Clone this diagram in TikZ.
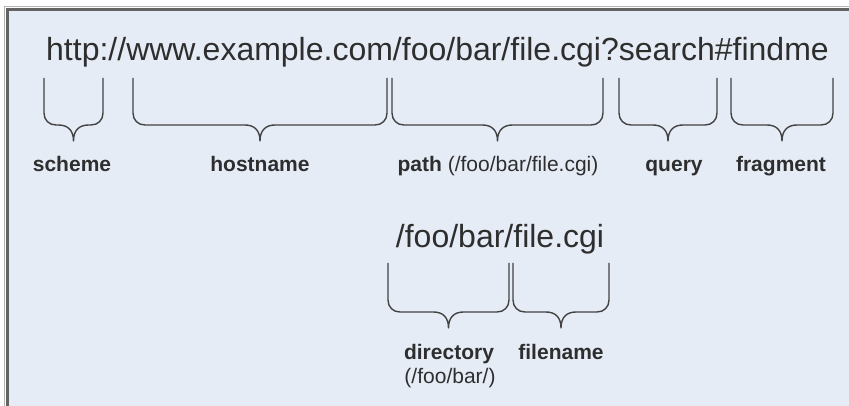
\documentclass[tikz,border=0pt]{standalone}
\usepackage{fontspec}
\setmainfont{Liberation Sans}[Ligatures=NoCommon]
\definecolor{panelfill}{HTML}{E6ECF6}
\definecolor{framegray}{HTML}{636363}
\definecolor{frameedge}{HTML}{B4B4B4}
\definecolor{inkgray}{HTML}{2E2E2E}

\tikzset{
    urltext/.style={inner sep=0pt, text=inkgray, font=\fontsize{32}{38}\selectfont},
    lbl/.style={inner sep=0pt, text=inkgray, font=\fontsize{21}{25}\selectfont\bfseries},
    bracestyle/.style={draw=inkgray!90, line width=1.4pt, line join=round}
}

% brace from #2 to #3, arms from #4 down to bar #5, tip at #6, tip named #1
\newcommand{\urlbrace}[6]{%
    \pgfmathsetmacro{\bmid}{(#2+#3)/2}
    \draw[bracestyle] (#2,#4) -- (#2,#5-12)
        .. controls (#2,#5-5) and (#2+5,#5) .. (#2+12,#5)
        -- (\bmid-15,#5)
        .. controls (\bmid-6,#5) and (\bmid,#5+5) .. (\bmid,#6)
        .. controls (\bmid,#5+5) and (\bmid+6,#5) .. (\bmid+15,#5)
        -- (#3-12,#5)
        .. controls (#3-5,#5) and (#3,#5-5) .. (#3,#5-12)
        -- (#3,#4);
    \coordinate (#1) at (\bmid,#6);
}

\begin{document}
\begin{tikzpicture}[x=1pt, y=-1pt]
    \useasboundingbox (0,0) rectangle (849,406);

    % panel
    \fill[panelfill] (8,9) rectangle (849,406);
    \draw[frameedge, line width=1.5pt] (4.5,406) -- (4.5,6.5) -- (849,6.5);
    \draw[framegray, line width=3pt] (7.5,406) -- (7.5,9.5) -- (849,9.5);

    % full url and its parts
    \node[urltext, anchor=base] (url) at (437.5,61) {http://www.example.com/foo/bar/file.cgi?search\#findme};

    \urlbrace{tipscheme}{44}{103}{78}{125}{141}
    \urlbrace{tiphost}{133}{387}{78}{125}{141}
    \urlbrace{tippath}{392}{603}{78}{125}{141}
    \urlbrace{tipquery}{619}{717}{78}{125}{141}
    \urlbrace{tipfrag}{731}{833}{78}{125}{141}

    \node[lbl, anchor=base] (scheme) at (72,172) {scheme};
    \node[lbl, anchor=base] (hostname) at (260,172) {hostname};
    \node[lbl, anchor=base] (path) at (498,172) {path \mdseries(/foo/bar/file.cgi)};
    \node[lbl, anchor=base] (query) at (674,172) {query};
    \node[lbl, anchor=base] (fragment) at (781,172) {fragment};

    % the path split again
    \node[urltext, anchor=base] (pathurl) at (500,248) {/foo/bar/file.cgi};

    \urlbrace{tipdir}{388}{509}{263}{312}{328}
    \urlbrace{tipfile}{513}{609}{263}{312}{328}

    \node[lbl, anchor=base] (directory) at (449,359) {directory};
    \node[lbl, anchor=base, font=\fontsize{21}{25}\selectfont] (dirpath) at (450,383) {(/foo/bar/)};
    \node[lbl, anchor=base] (filename) at (561,359) {filename};
\end{tikzpicture}
\end{document}
